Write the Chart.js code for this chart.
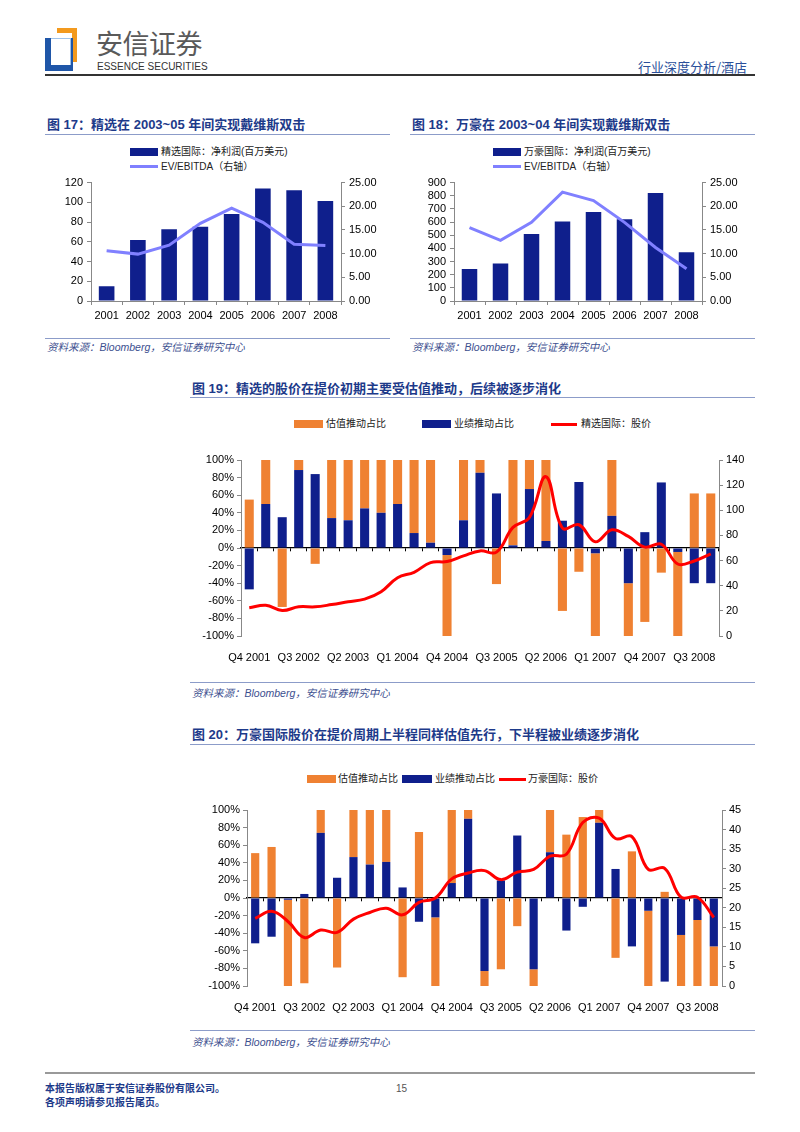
<!DOCTYPE html>
<html><head><meta charset="utf-8">
<script src="https://cdn.jsdelivr.net/npm/chart.js@4.4.1/dist/chart.umd.min.js"></script>
<style>
body{margin:0;width:800px;height:1132px;background:#fff;position:relative;overflow:hidden;font-family:"Liberation Sans",Arial,"Noto Sans CJK SC",sans-serif}
.t{position:absolute;font-family:"Liberation Sans","Noto Sans CJK SC";font-weight:700;font-size:13px;color:#1d3a8a;white-space:nowrap;line-height:16px}
.rule{position:absolute;height:0;border-top:1.5px solid #8c9cc9}
.src{position:absolute;font-style:italic;font-size:10.5px;color:#3d4f8f;white-space:nowrap;line-height:12px;font-family:"Liberation Sans","Noto Sans CJK SC"}
.leg{position:absolute;font-size:10px;color:#222;white-space:nowrap;line-height:12px;font-family:"Liberation Sans","Noto Sans CJK SC"}
.sw{position:absolute}
.box{position:absolute}
canvas{position:absolute}
</style></head>
<body>
<!-- header -->
<div class="box" style="left:57px;top:28px;width:20px;height:34px;background:#f39a1e"></div>
<div class="box" style="left:57px;top:33px;width:15px;height:29px;background:#fff"></div>
<div class="box" style="left:45px;top:38px;width:28px;height:33px;background:#1f56a8"></div>
<div class="box" style="left:51px;top:38px;width:19px;height:26px;background:#fff;border-top:1px solid #9fc3ea;border-right:1px solid #9fc3ea"></div>
<div class="box" style="left:96px;top:27px;font-family:'Noto Sans CJK SC';font-size:27px;color:#5a5a5a;line-height:32px;letter-spacing:-0.5px">安信证券</div>
<div class="box" style="left:97px;top:61px;font-family:'Liberation Sans Narrow','Liberation Sans';font-size:10px;color:#333;line-height:11px">ESSENCE SECURITIES</div>
<div class="box" style="left:638px;top:59px;font-family:'Noto Sans CJK SC';font-size:13px;color:#2a4f9a;line-height:16px">行业深度分析/酒店</div>
<div class="box" style="left:45px;top:74px;width:710px;height:0;border-top:2px solid #333"></div>

<!-- chart 17 -->
<div class="t" style="left:47px;top:117px">图 17：精选在 2003~05 年间实现戴维斯双击</div>
<div class="rule" style="left:45px;top:134px;width:345px"></div>
<div class="sw" style="left:130px;top:148px;width:28px;height:8px;background:#0f1f8c"></div>
<div class="leg" style="left:161px;top:146px">精选国际：净利润(百万美元)</div>
<div class="sw" style="left:130px;top:165px;width:28px;height:3px;background:#8080ff"></div>
<div class="leg" style="left:161px;top:161px">EV/EBITDA（右轴）</div>
<canvas id="c17" width="360" height="160" style="left:40px;top:172px"></canvas>
<div class="rule" style="left:45px;top:338px;width:345px"></div>
<div class="src" style="left:47px;top:341px">资料来源：Bloomberg，安信证券研究中心</div>

<!-- chart 18 -->
<div class="t" style="left:412px;top:117px">图 18：万豪在 2003~04 年间实现戴维斯双击</div>
<div class="rule" style="left:410px;top:134px;width:345px"></div>
<div class="sw" style="left:493px;top:148px;width:28px;height:8px;background:#0f1f8c"></div>
<div class="leg" style="left:524px;top:146px">万豪国际：净利润(百万美元)</div>
<div class="sw" style="left:493px;top:165px;width:28px;height:3px;background:#8080ff"></div>
<div class="leg" style="left:524px;top:161px">EV/EBITDA（右轴）</div>
<canvas id="c18" width="355" height="160" style="left:405px;top:172px"></canvas>
<div class="rule" style="left:410px;top:338px;width:345px"></div>
<div class="src" style="left:412px;top:341px">资料来源：Bloomberg，安信证券研究中心</div>

<!-- chart 19 -->
<div class="t" style="left:192px;top:381px">图 19：精选的股价在提价初期主要受估值推动，后续被逐步消化</div>
<div class="rule" style="left:190px;top:397px;width:565px"></div>
<div class="sw" style="left:294px;top:420px;width:29px;height:8px;background:#ef8132"></div>
<div class="leg" style="left:326px;top:418px">估值推动占比</div>
<div class="sw" style="left:422px;top:420px;width:29px;height:8px;background:#0f1f8c"></div>
<div class="leg" style="left:454px;top:418px">业绩推动占比</div>
<div class="sw" style="left:551px;top:423px;width:26px;height:2.5px;background:#ff0000"></div>
<div class="leg" style="left:581px;top:418px">精选国际：股价</div>
<canvas id="c19" width="570" height="215" style="left:185px;top:450px"></canvas>
<div class="rule" style="left:190px;top:682px;width:565px"></div>
<div class="src" style="left:192px;top:687px">资料来源：Bloomberg，安信证券研究中心</div>

<!-- chart 20 -->
<div class="t" style="left:192px;top:727px">图 20：万豪国际股价在提价周期上半程同样估值先行，下半程被业绩逐步消化</div>
<div class="rule" style="left:190px;top:744px;width:565px"></div>
<div class="sw" style="left:307px;top:775px;width:29px;height:8px;background:#ef8132"></div>
<div class="leg" style="left:338px;top:773px">估值推动占比</div>
<div class="sw" style="left:402px;top:775px;width:30px;height:8px;background:#0f1f8c"></div>
<div class="leg" style="left:435px;top:773px">业绩推动占比</div>
<div class="sw" style="left:499px;top:778px;width:27px;height:2.5px;background:#ff0000"></div>
<div class="leg" style="left:528px;top:773px">万豪国际：股价</div>
<canvas id="c20" width="570" height="215" style="left:185px;top:800px"></canvas>
<div class="rule" style="left:190px;top:1030px;width:565px"></div>
<div class="src" style="left:192px;top:1036px">资料来源：Bloomberg，安信证券研究中心</div>

<!-- footer -->
<div class="box" style="left:45px;top:1072px;width:710px;height:0;border-top:2px solid #999"></div>
<div class="box" style="left:45px;top:1081px;font-family:'Noto Sans CJK SC';font-weight:700;font-size:10px;color:#1d3a8a;line-height:13px">本报告版权属于安信证券股份有限公司。</div>
<div class="box" style="left:45px;top:1095px;font-family:'Noto Sans CJK SC';font-weight:700;font-size:10px;color:#1d3a8a;line-height:13px">各项声明请参见报告尾页。</div>
<div class="box" style="left:396px;top:1082px;font-size:10px;color:#555;line-height:13px">15</div>

<script>
// ---------- data ----------
const years = ['2001','2002','2003','2004','2005','2006','2007','2008'];
const jingxuanProfit = [15, 61.7, 72.7, 75.3, 88.3, 114, 112.3, 101.3];
const jingxuanEv = [10.6, 9.9, 11.8, 16.4, 19.6, 16.6, 12.0, 11.7];
const marriottProfit = [244, 286, 510, 604, 676, 622, 820, 370];
const marriottEv = [15.5, 12.8, 16.6, 23.0, 21.2, 16.6, 11.3, 6.8];

const quarters = ['Q4 2001','Q1 2002','Q2 2002','Q3 2002','Q4 2002','Q1 2003','Q2 2003','Q3 2003','Q4 2003',
  'Q1 2004','Q2 2004','Q3 2004','Q4 2004','Q1 2005','Q2 2005','Q3 2005','Q4 2005','Q1 2006','Q2 2006',
  'Q3 2006','Q4 2006','Q1 2007','Q2 2007','Q3 2007','Q4 2007','Q1 2008','Q2 2008','Q3 2008','Q4 2008'];

const jxValuation = [55, 50, -67, 11.4, -18, 66, 68.5, 55, 60, 50, 83, 94, -92, 68.5, 14.5, -41, 97, 33, 92, -71.5, -27, -94, 63.5, -60, -84, -28, -95.5, 62, 62];
const jxEarnings  = [-47, 50, 35, 88.6, 84, 34, 31.5, 45, 40, 50, 17, 6, -8, 31.5, 85.5, 62, 3, 67, 8, 31, 75, -6, 36.5, -40, 18, 74.5, -4.5, -40, -40];
const jxPrice = [22.4, 24.5, 20.3, 23.2, 23.2, 25, 27.2, 29.3, 35.2, 46.4, 50.7, 58.4, 59.2, 63.7, 67.7, 66.7, 86.4, 94.4, 126.7, 85.9, 88.5, 74.9, 84.5, 79.2, 70.7, 73, 57.3, 59.7, 65.3];

const mhValuation = [51, 58, -98, -97, 26, -79, 53.5, 62, 59, -90, 75, -78, 83, 10, -17, -81, -32, -19, 48, 72, 92, 14.5, -68, 53, -85.5, 7, -58, -75, -45];
const mhEarnings  = [-51.5, -44, -2, 4.6, 74, 23, 46.5, 38, 41, 12, -27, -22, 17, 90, -83, 20, 71, -81, 52, -37, -10, 85.5, 33, -55, -14.5, -95, -42, -25, -55];
const mhPrice = [17.3, 19.1, 16.5, 12.4, 14.3, 13.7, 17.1, 18.8, 19.9, 18.2, 21.4, 22.5, 27.4, 28.9, 29.5, 27.2, 29.1, 29.8, 33.2, 33.7, 41.8, 42.9, 37.7, 38.2, 29.8, 30.1, 22.7, 22.7, 17.5];

// ---------- styling ----------
Chart.defaults.font.family = '"Liberation Sans", Arial, sans-serif';
Chart.defaults.font.size = 11;
Chart.defaults.color = '#000';
const BLUE = '#0f1f8c', ORANGE = '#ef8132', RED = '#ff0000', LILAC = '#8080ff';
const axisGrid = {drawOnChartArea:false, drawTicks:true, tickLength:4, color:'#888'};
const axisBorder = {display:true, color:'#888', width:1};

function yearChart(id, bars, line, leftMax, leftStep, leftW, rightW) {
  new Chart(document.getElementById(id), {
    data: {labels: years, datasets: [
      {type:'line', data: line, yAxisID:'y1', borderColor: LILAC, borderWidth: 3, pointRadius: 0, tension: 0, order: 0},
      {type:'bar', data: bars, yAxisID:'y', backgroundColor: BLUE, barPercentage: 0.5, categoryPercentage: 1, order: 1}
    ]},
    options: {
      responsive:false, animation:false, devicePixelRatio:1,
      layout:{padding:{top:9,left:0,right:0,bottom:0}},
      plugins:{legend:{display:false}, tooltip:{enabled:false}},
      scales:{
        x:{grid:{drawOnChartArea:false, tickLength:4, color:'#888', offset:true}, border:axisBorder,
           ticks:{padding:4, font:{size:11}}, afterFit(s){s.height=31;}},
        y:{position:'left', min:0, max:leftMax, ticks:{stepSize:leftStep, padding:4, autoSkip:false},
           grid:axisGrid, border:axisBorder, afterFit(s){s.width=leftW;}},
        y1:{position:'right', min:0, max:25, ticks:{stepSize:5, padding:4, autoSkip:false, callback:v=>v.toFixed(2)},
           grid:axisGrid, border:axisBorder, afterFit(s){s.width=rightW;}}
      }
    }
  });
}
yearChart('c17', jingxuanProfit, jingxuanEv, 120, 20, 51, 59);
yearChart('c18', marriottProfit, marriottEv, 900, 100, 49, 58);

function quarterChart(id, valuation, earnings, price, rightMax, rightStep, leftW, rightW, barPct) {
  new Chart(document.getElementById(id), {
    data: {labels: quarters, datasets: [
      {type:'line', data: price, xAxisID:'x', yAxisID:'y1', borderColor: RED, borderWidth: 3, pointRadius: 0, tension: 0.4, order: 0},
      {type:'bar', data: earnings, xAxisID:'x', yAxisID:'y', backgroundColor: BLUE, barPercentage: barPct, categoryPercentage: 1, order: 1},
      {type:'bar', data: valuation, xAxisID:'x', yAxisID:'y', backgroundColor: ORANGE, barPercentage: barPct, categoryPercentage: 1, order: 2}
    ]},
    options: {
      responsive:false, animation:false, devicePixelRatio:1,
      layout:{padding:{top:10,left:0,right:0,bottom:0}},
      plugins:{legend:{display:false}, tooltip:{enabled:false}},
      scales:{
        x:{stacked:true, grid:{display:false}, border:{display:false},
           ticks:{autoSkip:false, maxRotation:0, padding:7, font:{size:11},
                  callback:(v,i)=> i % 3 === 0 ? quarters[i] : ''},
           afterFit(s){s.height=29;}},
        xz:{type:'category', position:{y:0}, offset:true,
            grid:{offset:true, drawOnChartArea:false, drawTicks:true, tickLength:3, color:'#000'},
            border:{display:true, color:'#000', width:1.3}, ticks:{display:false}},
        y:{stacked:true, position:'left', min:-100, max:100, ticks:{stepSize:20, padding:3, autoSkip:false, callback:v=>v+'%'},
           grid:axisGrid, border:axisBorder, afterFit(s){s.width=leftW;}},
        y1:{position:'right', min:0, max:rightMax, ticks:{stepSize:rightStep, padding:3, autoSkip:false},
           grid:axisGrid, border:axisBorder, afterFit(s){s.width=rightW;}}
      }
    }
  });
}
quarterChart('c19', jxValuation, jxEarnings, jxPrice, 140, 20, 56, 36, 0.55);
quarterChart('c20', mhValuation, mhEarnings, mhPrice, 45, 5, 62, 33, 0.5);
</script>
</body></html>
